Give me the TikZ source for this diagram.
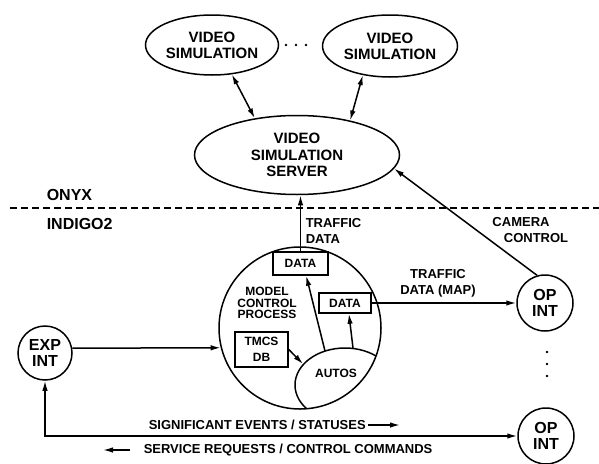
\documentclass[tikz,border=0pt]{standalone}
\usepackage{fontspec}
\setmainfont{Liberation Sans}
\usetikzlibrary{arrows.meta,shapes.geometric}
\begin{document}
\begin{tikzpicture}[x=1pt,y=-1pt, line width=1.5pt,
  lbl/.style={font=\bfseries\fontsize{13}{16.5}\selectfont, inner sep=0pt, align=center},
  ell/.style={draw, ellipse, inner sep=0pt, align=center, font=\bfseries\fontsize{15}{16}\selectfont},
  rnd/.style={draw, circle, fill=white, inner sep=0pt, align=center, font=\bfseries\fontsize{16}{16.5}\selectfont},
  databox/.style={draw, rectangle, fill=white, inner sep=0pt, align=center, font=\bfseries\fontsize{12}{15}\selectfont},
  big/.style={font=\bfseries\fontsize{16}{16}\selectfont, inner sep=0pt, anchor=west},
  arr/.style={-{Latex[length=10pt,width=5.5pt]}},
  darr/.style={{Latex[length=10pt,width=5.5pt]}-{Latex[length=10pt,width=5.5pt]}},
  dot/.style={circle, fill, inner sep=0pt, minimum size=2.6pt}
]
\useasboundingbox (0,0) rectangle (599,463);

% top ellipses
\node[ell, minimum width=133pt, minimum height=60pt] (vs1) at (212,45) {VIDEO\\SIMULATION};
\node[ell, minimum width=135pt, minimum height=62pt] (vs2) at (390,46) {VIDEO\\SIMULATION};
\node[ell, minimum width=205pt, minimum height=79pt, font=\bfseries\fontsize{15}{16.5}\selectfont] (srv) at (297,155) {VIDEO\\SIMULATION\\SERVER};

\node[dot] (h1) at (286,45) {};
\node[dot] (h2) at (296,45) {};
\node[dot] (h3) at (306,45) {};

\draw[darr] (vs1.-56) -- (srv.139);
\draw[darr] (vs2.-133) -- (srv.33);

% separator
\coordinate (dl) at (10,208);
\coordinate (dr) at (599,208);
\draw[dash pattern=on 7pt off 4pt] (dl) -- (dr);
\node[big] (onyx) at (46,195) {ONYX};
\node[big] (indigo) at (46,224) {INDIGO2};

% model control process
\node[draw, circle, minimum size=162pt, inner sep=0pt] (mcp) at (300,328) {};
\begin{scope}
  \clip (300,328) circle[radius=81pt];
  \draw (345,385) ellipse[x radius=50pt, y radius=37pt];
\end{scope}
\node[databox, minimum width=55pt, minimum height=23pt] (data1) at (300.5,263.5) {DATA};
\node[databox, minimum width=52pt, minimum height=20pt] (data2) at (345,303) {DATA};
\node[databox, minimum width=53pt, minimum height=35pt, font=\bfseries\fontsize{12}{16}\selectfont] (tmcs) at (261.5,349.5) {TMCS\\DB};
\node[inner sep=0pt, align=center, font=\bfseries\fontsize{12}{11.5}\selectfont] (mcpl) at (267,303) {MODEL\\CONTROL\\PROCESS};
\node[inner sep=0pt, font=\bfseries\fontsize{12}{12}\selectfont] (autos) at (336,373) {AUTOS};

\coordinate (a0) at (303,364);
\coordinate (a1) at (325,351);
\coordinate (a2) at (353,348);
\draw[arr] (tmcs.east) -- (a0);
\draw[arr] (a1) -- (data1.-65);
\draw[arr] (a2) -- (data2.-70);

% traffic data up
\draw[arr] (data1.north) -- (data1.north |- srv.south);
\node[lbl, anchor=west, align=left] (tdata) at (305,231) {TRAFFIC\\DATA};

% OP INT circles
\node[rnd, minimum size=56pt] (opint1) at (545,303) {OP\\INT};
\node[rnd, minimum size=56pt] (opint2) at (546,436) {OP\\INT};
\node[rnd, minimum size=54pt] (expint) at (45,353) {EXP\\INT};

\draw[arr] (opint1.106) -- (srv.-8);
\node[lbl] (cam1) at (521,222) {CAMERA};
\node[lbl] (cam2) at (536,238) {CONTROL};

\draw[arr] (data2.east) -- (data2.east -| opint1.west);
\node[lbl] (tmap) at (438,283.5) {TRAFFIC\\DATA (MAP)};

\node[dot] (v1) at (547,352) {};
\node[dot] (v2) at (547,364) {};
\node[dot] (v3) at (547,376) {};

\draw[arr] (expint.10) -- (mcp.194);

% bottom loop
\draw[darr] (expint.south) |- (opint2.west);
\node[lbl, anchor=west] (sig) at (148,425) {SIGNIFICANT EVENTS / STATUSES};
\coordinate (sigend) at (400,425);
\draw[arr] ([xshift=2pt]sig.east) -- (sigend);
\node[lbl, anchor=west] (serv) at (143,450) {SERVICE REQUESTS / CONTROL COMMANDS};
\coordinate (servstart) at (130,450);
\coordinate (servend) at (103,450);
\draw[arr] (servstart) -- (servend);
\end{tikzpicture}
\end{document}
